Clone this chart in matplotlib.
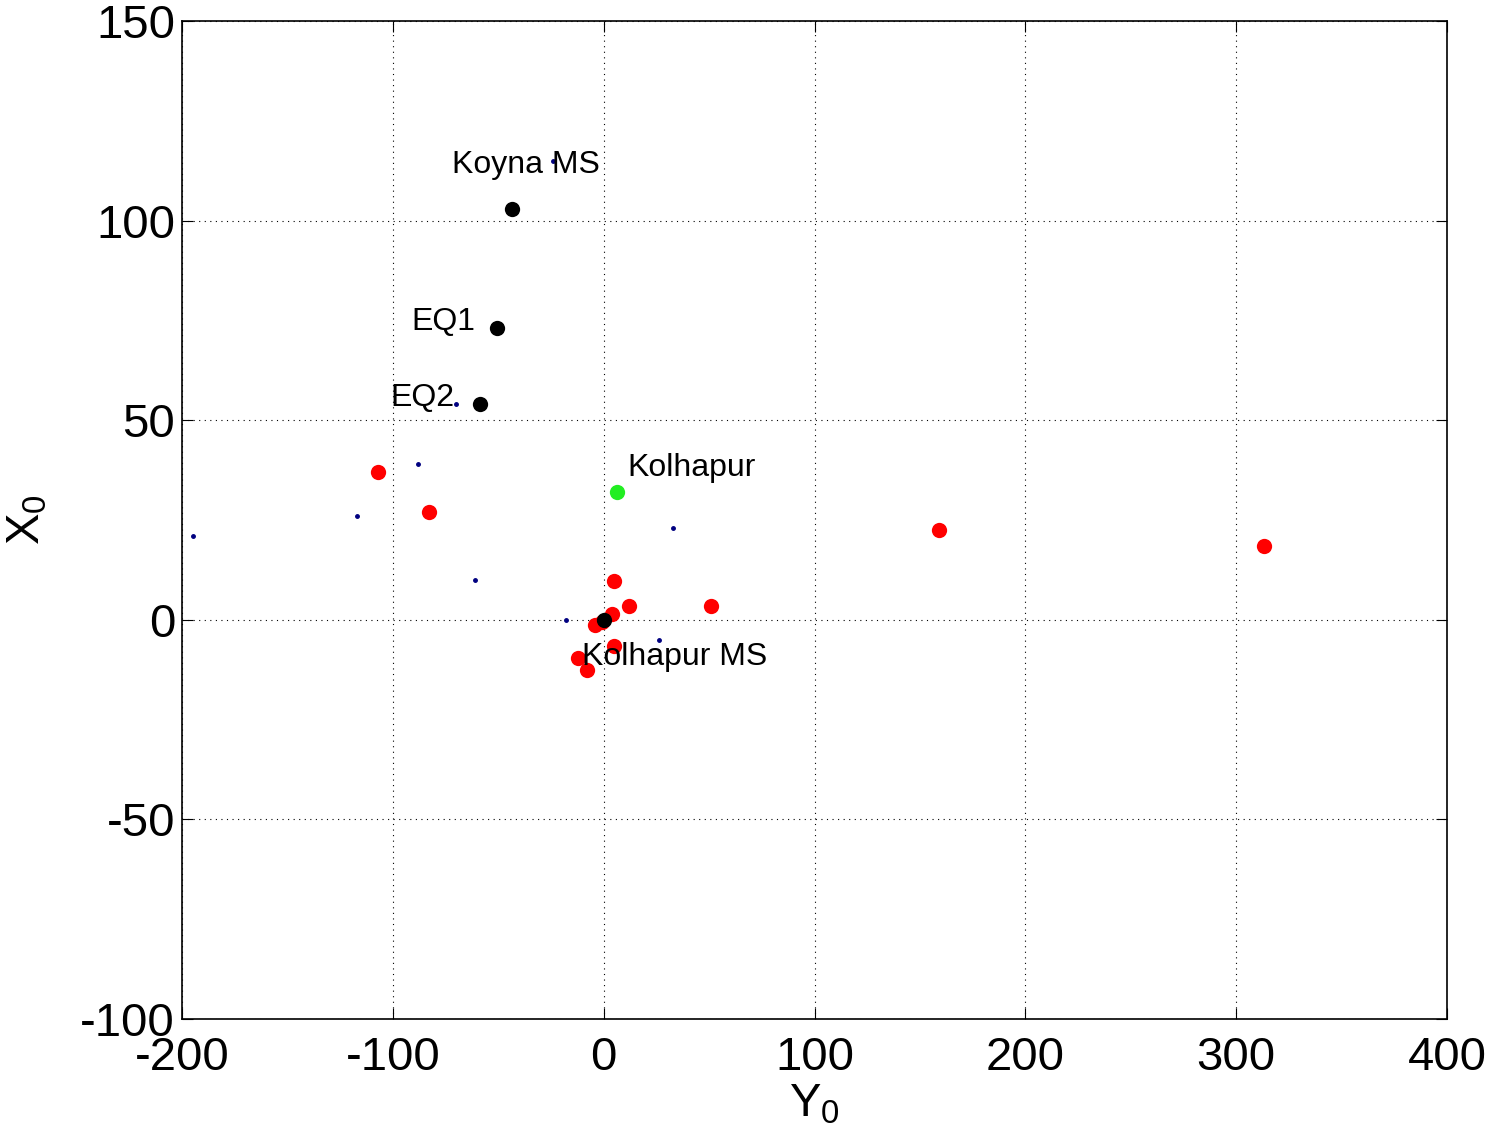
import numpy as np
import matplotlib
matplotlib.use('Agg')
import matplotlib.pyplot as plt

plt.rcParams['font.family'] = ['Liberation Sans', 'DejaVu Sans']
plt.rcParams['axes.unicode_minus'] = False
plt.rcParams['mathtext.fontset'] = 'custom'
plt.rcParams['mathtext.rm'] = 'Liberation Sans'
plt.rcParams['mathtext.it'] = 'Liberation Sans'

# small blue stations
blue_y = [-195, -117, -88, -61, -70, -24, 33, -18, 26]
blue_x = [21, 26, 39, 10, 54, 115, 23, 0, -5]

# red events
red_y = [-107, -83, 159, 313, 5, 12, 51, 4, -1, -4, 5, -12, -8]
red_x = [37, 27, 22.5, 18.5, 9.7, 3.5, 3.5, 1.5, -0.5, -1.2, -6.5, -9.5, -12.5]

# black: Koyna MS, EQ1, EQ2, origin
black_y = [-43.5, -50.5, -58.5, 0]
black_x = [103, 73, 54, 0]

# green: Kolhapur
green_y = [6.5]
green_x = [32]

labels = ['Koyna MS', 'EQ1', 'EQ2', 'Kolhapur', 'Kolhapur MS']
label_y = [-72, -91, -101, 11, -10.5]
label_x = [114, 74.5, 55.5, 38, -9.3]

fig = plt.figure(figsize=(14.86, 11.4), dpi=100)
ax = fig.add_axes([0.1225, 0.1061, 0.8513, 0.8755])

ax.plot(blue_y, blue_x, '.', color='#000080', markersize=5)
ax.plot(red_y, red_x, 'o', color='red', markersize=11, markeredgewidth=0)
ax.plot(black_y, black_x, 'o', color='black', markersize=11, markeredgewidth=0)
ax.plot(green_y, green_x, 'o', color='#22ee22', markersize=11, markeredgewidth=0)

for s, yy, xx in zip(labels, label_y, label_x):
    ax.text(yy, xx, s, fontsize=23, ha='left', va='center')

ax.set_xlim(-200, 400)
ax.set_ylim(-100, 150)
ax.set_xticks(np.arange(-200, 401, 100))
ax.set_yticks(np.arange(-100, 151, 50))
ax.grid(True, color='black', linestyle=(0, (1, 4)), linewidth=0.8)
ax.tick_params(direction='in', top=True, right=True, length=8, labelsize=34)
ax.xaxis.set_tick_params(pad=12)
ax.yaxis.set_tick_params(pad=5)
for sp in ax.spines.values():
    sp.set_linewidth(1.2)

ax.set_xlabel('Y$_0$', fontsize=34, labelpad=2)
ax.set_ylabel('X$_0$', fontsize=34, labelpad=22)

fig.savefig('out.png', dpi=100)
